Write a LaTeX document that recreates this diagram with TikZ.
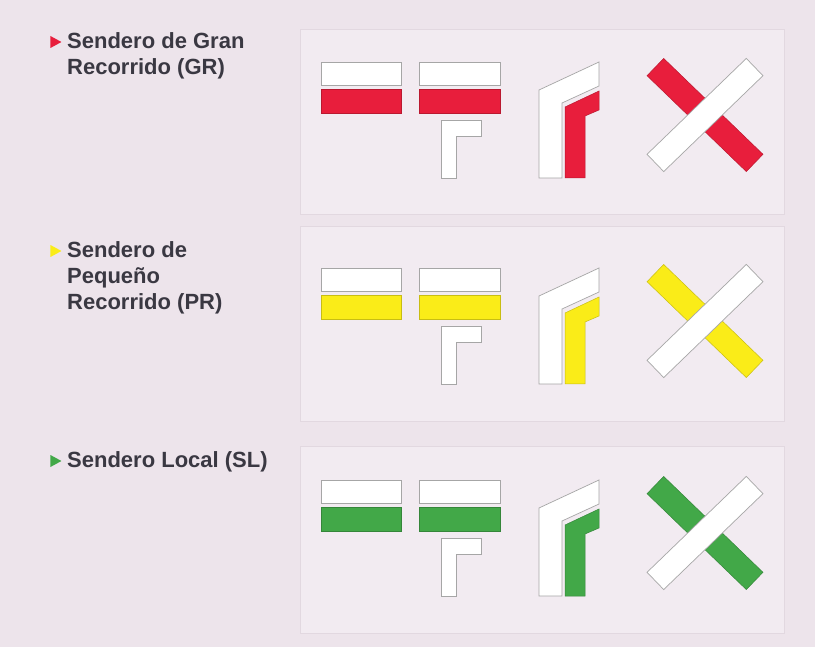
\documentclass[tikz,border=0pt]{standalone}
\usepackage{fontspec}
\setmainfont{Liberation Sans}
\usetikzlibrary{shapes.geometric, positioning}

\definecolor{pagebg}{RGB}{237,228,235}
\definecolor{panelbg}{RGB}{242,235,241}
\definecolor{panelline}{RGB}{226,216,224}
\definecolor{inkgray}{RGB}{58,56,66}
\definecolor{grred}{RGB}{232,30,60}
\definecolor{pryellow}{RGB}{250,236,24}
\definecolor{slgreen}{RGB}{66,168,72}

\begin{document}
\begin{tikzpicture}[x=1pt, y=-1pt,
    panel/.style={fill=panelbg, draw=panelline, line width=0.8pt},
    whiteblaze/.style={fill=white, draw=gray!70, line width=0.7pt},
    colourblaze/.style={fill=#1, draw=#1!80!black, line width=0.5pt},
    caption/.style={anchor=north west, inner sep=0pt, align=left, text=inkgray, font=\fontsize{22}{26}\selectfont\bfseries},
    bullet/.style={isosceles triangle, isosceles triangle stretches, fill=#1, inner sep=0pt, minimum width=12pt, minimum height=11pt},
    bar/.style={rectangle, minimum width=138pt, minimum height=24pt, inner sep=0pt}]
    \fill[pagebg] (0,0) rectangle (815,647);
    \useasboundingbox (0,0) rectangle (815,647);

    % one row per kind of trail
    \foreach \id/\col/\dy/\ptop/\pbot/\ty/\txt in {
        gr/grred/0/29/214/48/{Sendero de Gran\\Recorrido (GR)},
        pr/pryellow/206/226/421/257/{Sendero de\\Pequeño\\Recorrido (PR)},
        sl/slgreen/418/446/633/467/{Sendero Local (SL)}}{
        \draw[panel] (300,\ptop) rectangle (784,\pbot);
        \node[caption] (\id-text) at (67,{\ty-16}) {\txt};
        \node[bullet=\col] (\id-mark) at (54,{\ty-6}) {};

        \begin{scope}[shift={(0,\dy)}]
            % right way
            \draw[whiteblaze] (321,62) rectangle (401,85);
            \draw[colourblaze=\col] (321,89) rectangle (401,113);
            % change of direction
            \draw[whiteblaze] (419,62) rectangle (500,85);
            \draw[colourblaze=\col] (419,89) rectangle (500,113);
            \draw[whiteblaze] (441,178) -- (441,120) -- (481,120) -- (481,136) -- (456,136) -- (456,178) -- cycle;
            % turn
            \draw[whiteblaze] (539,178) -- (539,90) -- (599,62) -- (599,86) -- (562,103) -- (562,178) -- cycle;
            \draw[colourblaze=\col] (565,178) -- (565,107) -- (599,91) -- (599,110) -- (585,116) -- (585,178) -- cycle;
            % wrong way
            \node[bar, colourblaze=\col, rotate=-44] (\id-cross) at (705,115) {};
            \node[bar, whiteblaze, rotate=44] (\id-bar) at (705,115) {};
        \end{scope}
    }
\end{tikzpicture}
\end{document}
